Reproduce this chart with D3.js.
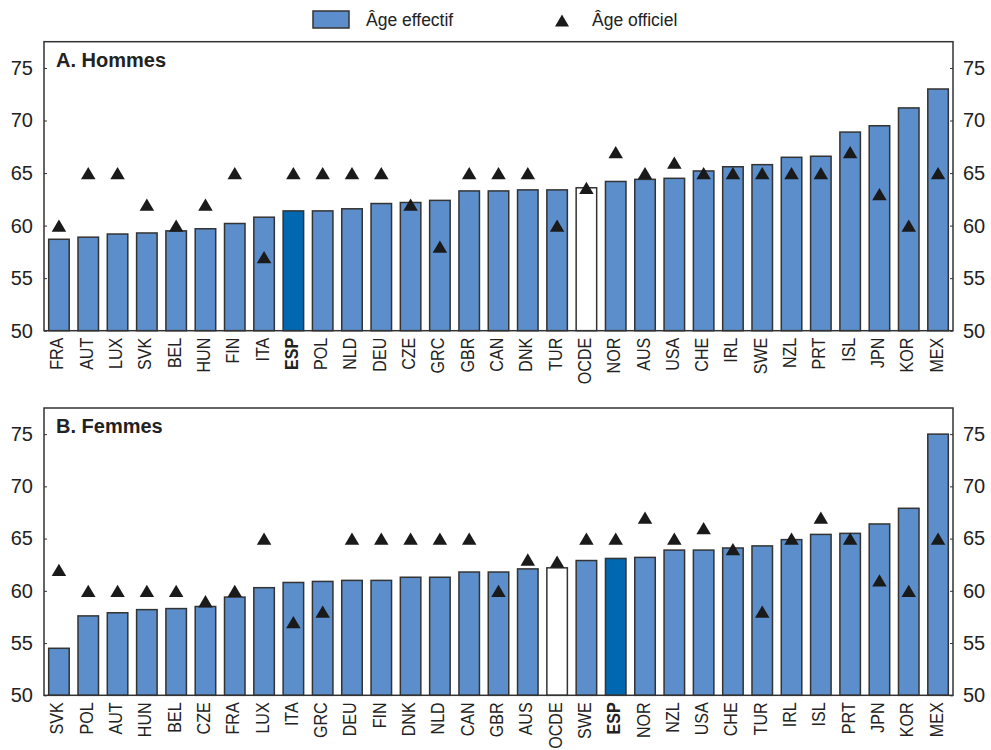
<!DOCTYPE html>
<html>
<head>
<meta charset="utf-8">
<script src="https://cdn.jsdelivr.net/npm/d3@7"></script>
<style>
  html, body { margin: 0; padding: 0; background: #ffffff; }
  svg { display: block; font-family: "Liberation Sans", Arial, Helvetica, sans-serif; }
</style>
</head>
<body>
<svg id="chart" width="991" height="750"></svg>
<script>
// ---------- DATA ----------
const legendLabels = ["Âge effectif", "Âge officiel"];
const yTicks = [50, 55, 60, 65, 70, 75];

const titleA = "A. Hommes";
const countriesA = ["FRA","AUT","LUX","SVK","BEL","HUN","FIN","ITA","ESP","POL","NLD","DEU","CZE","GRC","GBR","CAN","DNK","TUR","OCDE","NOR","AUS","USA","CHE","IRL","SWE","NZL","PRT","ISL","JPN","KOR","MEX"];
const effectiveA = [58.7,58.9,59.2,59.3,59.5,59.7,60.2,60.8,61.4,61.4,61.6,62.1,62.2,62.4,63.3,63.3,63.4,63.4,63.6,64.2,64.4,64.5,65.2,65.6,65.8,66.5,66.6,68.9,69.5,71.2,73.0];
const officialA  = [60,65,65,62,60,62,65,57,65,65,65,65,62,58,65,65,65,60,63.6,67,65,66,65,65,65,65,65,67,63,60,65];

const titleB = "B. Femmes";
const countriesB = ["SVK","POL","AUT","HUN","BEL","CZE","FRA","LUX","ITA","GRC","DEU","FIN","DNK","NLD","CAN","GBR","AUS","OCDE","SWE","ESP","NOR","NZL","USA","CHE","TUR","IRL","ISL","PRT","JPN","KOR","MEX"];
const effectiveB = [54.5,57.6,57.9,58.2,58.3,58.5,59.4,60.3,60.8,60.9,61.0,61.0,61.3,61.3,61.8,61.8,62.1,62.2,62.9,63.1,63.2,63.9,63.9,64.1,64.3,64.9,65.4,65.5,66.4,67.9,75.0];
const officialB  = [62,60,60,60,60,59,60,65,57,58,65,65,65,65,65,60,63,62.8,65,65,67,65,66,64,58,65,67,65,61,60,65];

const highlight = "ESP";
const average = "OCDE";

// ---------- STYLE ----------
const colBar = "#5b8ecb";
const colHi = "#0067b1";
const colAvg = "#ffffff";
const colStroke = "#333333";
const colText = "#222222";
const colTri = "#1a1a1a";

const svg = d3.select("#chart");
const left = 44, right = 953;

function triPath(cx, cy, w, h) {
  return `M${cx},${cy - h/2}L${cx + w/2},${cy + h/2}L${cx - w/2},${cy + h/2}Z`;
}

// ---------- LEGEND ----------
const lg = svg.append("g");
lg.append("rect").attr("x", 313).attr("y", 11).attr("width", 36).attr("height", 17)
  .attr("fill", colBar).attr("stroke", colStroke).attr("stroke-width", 1.5);
lg.append("text").attr("x", 366).attr("y", 26).attr("font-size", 17.5).attr("fill", colText).text(legendLabels[0]);
lg.append("path").attr("d", triPath(562, 20.5, 14, 12)).attr("fill", colTri);
lg.append("text").attr("x", 592).attr("y", 26).attr("font-size", 17.5).attr("fill", colText).text(legendLabels[1]);

// ---------- PANELS ----------
function panel(top, bottom, title, countries, eff, off) {
  const g = svg.append("g");
  const x = d3.scaleBand().domain(countries).range([left, right]).paddingInner(0.3).paddingOuter(0.16);
  const y = d3.scaleLinear().domain([50, 77.5]).range([bottom, top]);

  // bars
  g.selectAll("rect.bar").data(countries).join("rect")
    .attr("class", "bar")
    .attr("x", d => x(d))
    .attr("width", x.bandwidth())
    .attr("y", (d, i) => y(eff[i]))
    .attr("height", (d, i) => y(50) - y(eff[i]))
    .attr("fill", d => d === highlight ? colHi : (d === average ? colAvg : colBar))
    .attr("stroke", colStroke)
    .attr("stroke-width", 1.5);

  // triangles
  g.selectAll("path.tri").data(countries).join("path")
    .attr("class", "tri")
    .attr("d", (d, i) => triPath(x(d) + x.bandwidth() / 2, y(off[i]), 14.5, 12.3))
    .attr("fill", colTri);

  // frame
  g.append("rect").attr("x", left).attr("y", top).attr("width", right - left).attr("height", bottom - top)
    .attr("fill", "none").attr("stroke", colStroke).attr("stroke-width", 1.5);

  // left axis
  const yl = d3.axisRight(y).tickValues(yTicks).tickSize(3).tickFormat(d3.format("d"));
  const gl = g.append("g").attr("transform", `translate(${left},0)`).call(yl);
  gl.select(".domain").remove();
  gl.selectAll(".tick line").attr("stroke", colStroke);
  gl.selectAll(".tick text").attr("x", -11).attr("text-anchor", "end")
    .attr("font-size", 20).attr("fill", colText).attr("font-family", null);

  // right axis
  const yr = d3.axisLeft(y).tickValues(yTicks).tickSize(3).tickFormat(d3.format("d"));
  const gr = g.append("g").attr("transform", `translate(${right},0)`).call(yr);
  gr.select(".domain").remove();
  gr.selectAll(".tick line").attr("stroke", colStroke);
  gr.selectAll(".tick text").attr("x", 10).attr("text-anchor", "start")
    .attr("font-size", 20).attr("fill", colText).attr("font-family", null);

  // x axis labels (condensed)
  const xa = d3.axisBottom(x).tickSize(0);
  const gx = g.append("g").attr("transform", `translate(0,${bottom})`).call(xa);
  gx.select(".domain").remove();
  gx.selectAll(".tick text")
    .attr("font-family", null)
    .attr("font-size", 18.5)
    .attr("fill", colText)
    .attr("text-anchor", "end")
    .attr("transform", "rotate(-90) scale(0.87,1)")
    .attr("x", -7 / 0.87)
    .attr("y", 0)
    .attr("dy", "4.5px")
    .attr("font-weight", d => d === highlight ? "bold" : "normal");

  // title
  g.append("text").attr("x", 56).attr("y", top + 25).attr("font-size", 20).attr("font-weight", "bold")
    .attr("fill", colText).text(title);
}

panel(41.7, 330.7, titleA, countriesA, effectiveA, officialA);
panel(408, 695.3, titleB, countriesB, effectiveB, officialB);
</script>
</body>
</html>
